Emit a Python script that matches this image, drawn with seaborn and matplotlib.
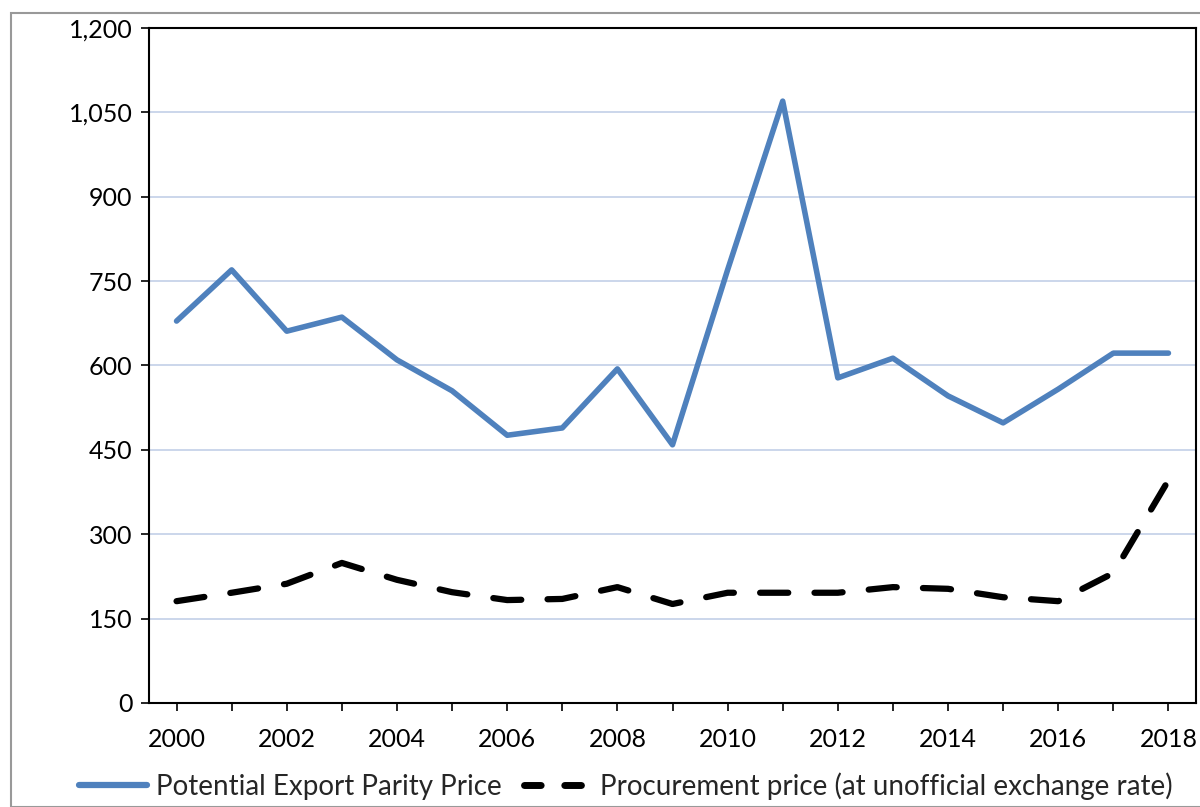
import matplotlib
matplotlib.use("Agg")
import matplotlib.pyplot as plt
import seaborn as sns
import pandas as pd
from matplotlib.patches import Rectangle
from matplotlib.lines import Line2D

years = list(range(2000, 2019))
export_parity = [679, 770, 661, 686, 610, 555, 476, 489, 594, 459,
                 770, 1070, 578, 613, 546, 498, 558, 622, 622]
procurement = [181, 196, 212, 249, 219, 197, 183, 185, 206, 176,
               196, 196, 196, 206, 203, 188, 181, 231, 396]
y_ticks = [0, 150, 300, 450, 600, 750, 900, 1050, 1200]
label_export = "Potential Export Parity Price"
label_proc = "Procurement price (at unofficial exchange rate)"

sns.set_theme(style="white")
plt.rcParams['font.family'] = ['Lato', 'DejaVu Sans']

df = pd.DataFrame({"idx": range(len(years)), "year": years,
                   "export": export_parity, "proc": procurement})

fig = plt.figure(figsize=(12, 8.07), dpi=100)
ax = fig.add_axes([149/1200, 1-703/807, (1196-149)/1200, (703-28)/807])

# outer frame
fig.patches.append(Rectangle((11/1200, 0), 1.2, 1-13/807, transform=fig.transFigure,
                             fill=False, edgecolor="#999999", linewidth=1.5, zorder=0))

sns.lineplot(data=df, x="idx", y="export", ax=ax, color="#4f81bd", linewidth=4,
             solid_capstyle="round", solid_joinstyle="round", legend=False)
sns.lineplot(data=df, x="idx", y="proc", ax=ax, color="black", linewidth=4.5,
             legend=False)
ax.lines[1].set_linestyle((0, (4.5, 4.2)))
ax.lines[1].set_dash_capstyle("round")

ax.set_xlim(-0.5, 18.5)
ax.set_ylim(0, 1200)
ax.set_yticks(y_ticks)
ax.set_yticklabels([f"{v:,}" for v in y_ticks])
ax.set_xticks(range(len(years)))
ax.set_xticklabels([str(y) if (y - 2000) % 2 == 0 else "" for y in years])
ax.grid(axis="y", color="#c2d0e8", linewidth=1.2)
ax.set_axisbelow(True)
ax.set_xlabel("")
ax.set_ylabel("")
for s in ax.spines.values():
    s.set_color("black")
    s.set_linewidth(1.5)
ax.tick_params(axis="both", which="major", length=6, width=1.2, color="black",
               labelsize=18, labelcolor="black", direction="out")
ax.tick_params(axis="y", pad=6)
ax.tick_params(axis="x", pad=12)
ax.yaxis.set_ticks_position("left")
ax.xaxis.set_ticks_position("bottom")

handles = [Line2D([], [], color="#4f81bd", linewidth=4.5, solid_capstyle="round"),
           Line2D([], [], color="black", linewidth=5, linestyle=(0, (2.4, 3.4)),
                  dash_capstyle="round")]
fig.legend(handles, [label_export, label_proc], loc="center",
           bbox_to_anchor=(626/1200, 1-786/807), ncol=2, frameon=False, fontsize=20,
           handlelength=2.45, columnspacing=0.8, handletextpad=0.3,
           borderaxespad=0, borderpad=0)

fig.savefig("out.png", dpi=100)
